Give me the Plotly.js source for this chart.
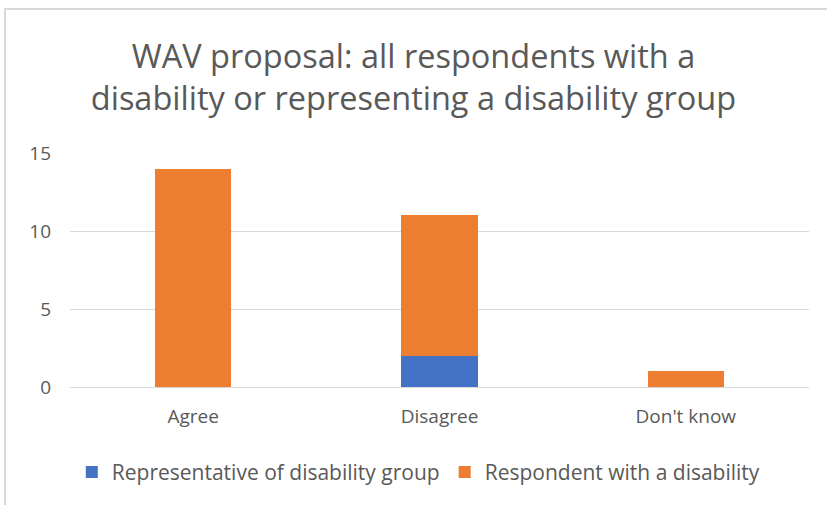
<!DOCTYPE html>
<html>
<head>
<meta charset="utf-8">
<script src="https://cdn.plot.ly/plotly-3.0.1.min.js"></script>
<style>
html,body{margin:0;padding:0;background:#fff;overflow:hidden;}
#chart{position:absolute;left:0;top:0;width:827px;height:505px;}
#frame{position:absolute;left:4px;top:8px;width:900px;height:600px;border-left:2px solid #d9d9d9;border-top:2px solid #d9d9d9;pointer-events:none;}
</style>
</head>
<body>
<div id="chart"></div>
<div id="frame"></div>
<script>
const categories = ["Agree", "Disagree", "Don't know"];
const representative = [0, 2, 0];
const respondent = [14, 9, 1];
const seriesNames = ["Representative of disability group", "Respondent with a disability"];
const yTicks = [0, 5, 10, 15];

const font = "Open Sans, Noto Sans, sans-serif";
const traces = [
  {type: "bar", name: seriesNames[0], x: categories, y: representative,
   marker: {color: "#4472C4"}, width: 0.31, hoverinfo: "none"},
  {type: "bar", name: seriesNames[1], x: categories, y: respondent,
   marker: {color: "#ED7D31"}, width: 0.31, hoverinfo: "none"}
];
const layout = {
  width: 827, height: 505,
  barmode: "stack",
  margin: {l: 70, r: 18, t: 153, b: 118},
  paper_bgcolor: "rgba(0,0,0,0)", plot_bgcolor: "#fff",
  font: {family: font, color: "#595959", size: 19},
  title: {text: "WAV proposal: all respondents with a<br>disability or representing a disability group",
          font: {family: font, size: 32.5, color: "#595959"},
          x: 0.5, xanchor: "center", yref: "container", y: 0.865, yanchor: "top"},
  xaxis: {type: "category", showgrid: false, showline: false, ticks: "",
          ticklabelstandoff: 16,
          tickfont: {size: 19, color: "#595959"}},
  yaxis: {range: [0, 15], tickvals: yTicks, showgrid: true, gridcolor: "#d9d9d9", gridwidth: 1,
          zeroline: true, zerolinecolor: "#d9d9d9", zerolinewidth: 1,
          showline: false, ticks: "", ticklabelstandoff: 18,
          tickfont: {size: 19, color: "#595959"}},
  showlegend: true,
  legend: {orientation: "h", x: 0.472, xanchor: "center", y: -0.365, yanchor: "middle",
           font: {size: 21, color: "#595959"}, traceorder: "normal", itemwidth: 30},
  bargap: 0.69
};
Plotly.newPlot("chart", traces, layout, {displayModeBar: false, staticPlot: true});
</script>
</body>
</html>
